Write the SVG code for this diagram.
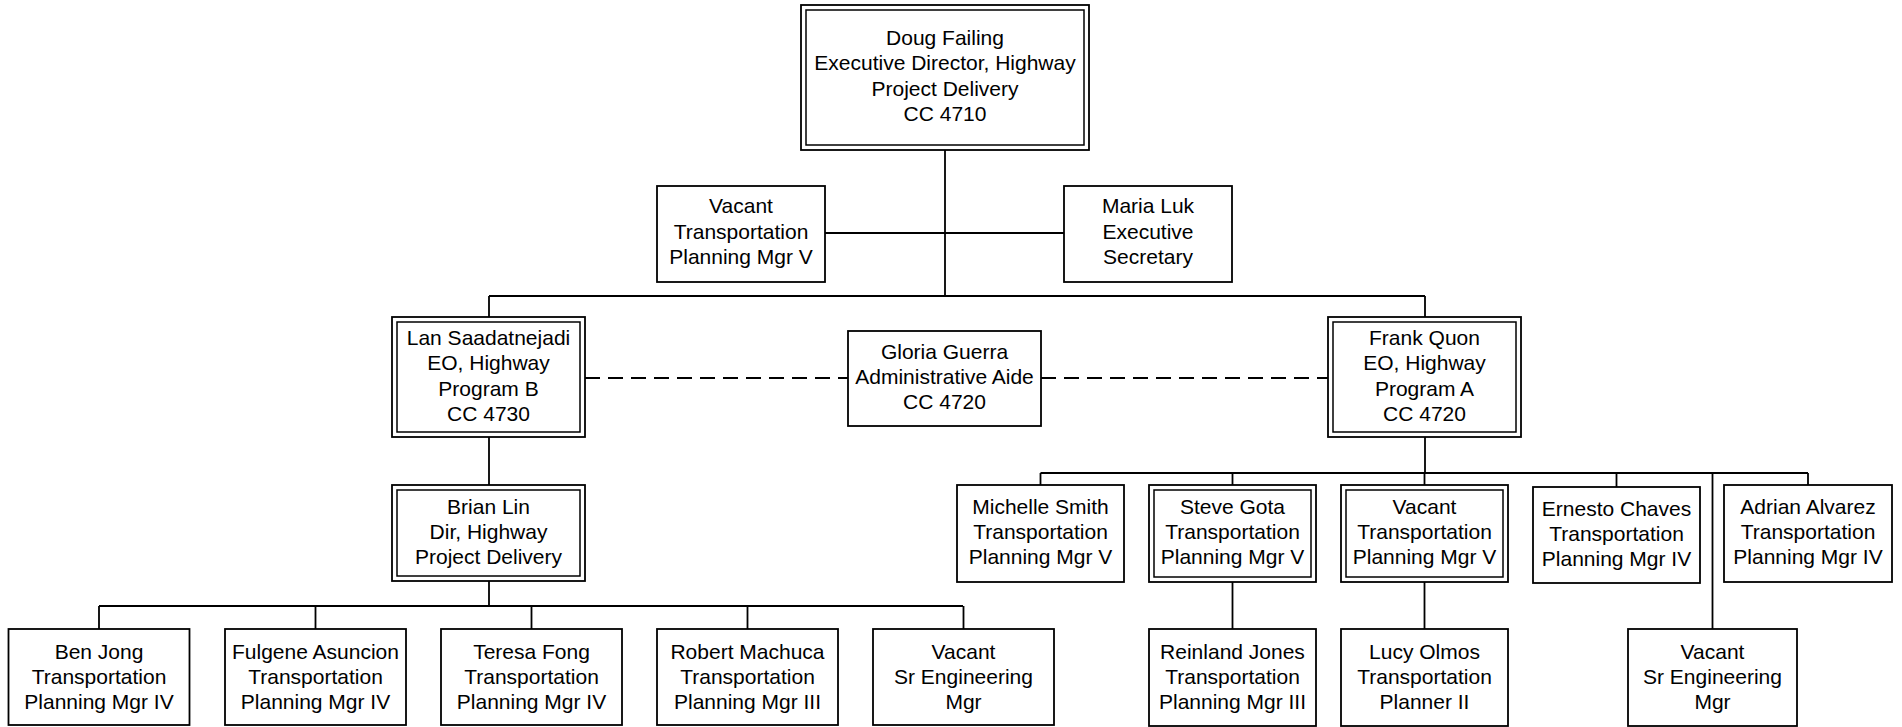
<svg xmlns="http://www.w3.org/2000/svg" width="1902" height="727" viewBox="0 0 1902 727">
<style>
.b{fill:#fff;stroke:#000;stroke-width:1.8}
.i{fill:none;stroke:#000;stroke-width:1.5}
.c{fill:none;stroke:#000;stroke-width:1.8}
.d{fill:none;stroke:#000;stroke-width:2;stroke-dasharray:15 8}
text{font-family:"Liberation Sans",Arial,sans-serif;font-size:21px;text-anchor:middle;fill:#000}
</style>
<rect width="1902" height="727" fill="#fff"/>
<g id="connectors">
<path class="c" d="M945 150V296M825 233H1064M489 296H1425M489 296V317M1425 296V317"/>
<path class="d" d="M585 378H848M1041 378H1328"/>
<path class="c" d="M489 437V485M489 581V606M99 606H963M99 606V629M315.5 606V629M531.5 606V629M747.5 606V629M963.5 606V629"/>
<path class="c" d="M1425 437V473M1040.5 473H1808M1040.5 473V485M1232.5 473V485M1424.5 473V485M1616.5 473V487M1808 473V485M1712.5 473V629"/>
<path class="c" d="M1232.5 582V629M1424.5 582V629"/>
</g>
<g id="doug">
<rect class="b" x="801" y="5" width="288" height="145"/>
<rect class="i" x="806" y="10" width="278" height="135"/>
<text x="945" y="44.5">Doug Failing</text>
<text x="945" y="70">Executive Director, Highway</text>
<text x="945" y="95.5">Project Delivery</text>
<text x="945" y="121">CC 4710</text>
</g>
<g id="vacant-tpm5-top">
<rect class="b" x="657" y="186" width="168" height="96"/>
<text x="741" y="213">Vacant</text>
<text x="741" y="238.5">Transportation</text>
<text x="741" y="264">Planning Mgr V</text>
</g>
<g id="maria">
<rect class="b" x="1064" y="186" width="168" height="96"/>
<text x="1148" y="213">Maria Luk</text>
<text x="1148" y="238.5">Executive</text>
<text x="1148" y="264">Secretary</text>
</g>
<g id="lan">
<rect class="b" x="392" y="317" width="193" height="120"/>
<rect class="i" x="397" y="322" width="183" height="110"/>
<text x="488.5" y="344.5">Lan Saadatnejadi</text>
<text x="488.5" y="370">EO, Highway</text>
<text x="488.5" y="395.5">Program B</text>
<text x="488.5" y="421">CC 4730</text>
</g>
<g id="gloria">
<rect class="b" x="848" y="331" width="193" height="95"/>
<text x="944.5" y="358.5">Gloria Guerra</text>
<text x="944.5" y="383.5">Administrative Aide</text>
<text x="944.5" y="408.5">CC 4720</text>
</g>
<g id="frank">
<rect class="b" x="1328" y="317" width="193" height="120"/>
<rect class="i" x="1333" y="322" width="183" height="110"/>
<text x="1424.5" y="344.5">Frank Quon</text>
<text x="1424.5" y="370">EO, Highway</text>
<text x="1424.5" y="395.5">Program A</text>
<text x="1424.5" y="421">CC 4720</text>
</g>
<g id="brian">
<rect class="b" x="392" y="485" width="193" height="96"/>
<rect class="i" x="397" y="490" width="183" height="86"/>
<text x="488.5" y="513.5">Brian Lin</text>
<text x="488.5" y="538.5">Dir, Highway</text>
<text x="488.5" y="563.5">Project Delivery</text>
</g>
<g id="ben">
<rect class="b" x="8.5" y="629" width="181" height="96"/>
<text x="99" y="658.5">Ben Jong</text>
<text x="99" y="683.5">Transportation</text>
<text x="99" y="708.5">Planning Mgr IV</text>
</g>
<g id="fulgene">
<rect class="b" x="225" y="629" width="181" height="96"/>
<text x="315.5" y="658.5">Fulgene Asuncion</text>
<text x="315.5" y="683.5">Transportation</text>
<text x="315.5" y="708.5">Planning Mgr IV</text>
</g>
<g id="teresa">
<rect class="b" x="441" y="629" width="181" height="96"/>
<text x="531.5" y="658.5">Teresa Fong</text>
<text x="531.5" y="683.5">Transportation</text>
<text x="531.5" y="708.5">Planning Mgr IV</text>
</g>
<g id="robert">
<rect class="b" x="657" y="629" width="181" height="96"/>
<text x="747.5" y="658.5">Robert Machuca</text>
<text x="747.5" y="683.5">Transportation</text>
<text x="747.5" y="708.5">Planning Mgr III</text>
</g>
<g id="vacant-sreng-left">
<rect class="b" x="873" y="629" width="181" height="96"/>
<text x="963.5" y="658.5">Vacant</text>
<text x="963.5" y="683.5">Sr Engineering</text>
<text x="963.5" y="708.5">Mgr</text>
</g>
<g id="michelle">
<rect class="b" x="957" y="485" width="167" height="97"/>
<text x="1040.5" y="513.5">Michelle Smith</text>
<text x="1040.5" y="538.5">Transportation</text>
<text x="1040.5" y="563.5">Planning Mgr V</text>
</g>
<g id="steve">
<rect class="b" x="1149" y="485" width="167" height="97"/>
<rect class="i" x="1154" y="490" width="157" height="87"/>
<text x="1232.5" y="513.5">Steve Gota</text>
<text x="1232.5" y="538.5">Transportation</text>
<text x="1232.5" y="563.5">Planning Mgr V</text>
</g>
<g id="vacant-tpm5-right">
<rect class="b" x="1341" y="485" width="167" height="97"/>
<rect class="i" x="1346" y="490" width="157" height="87"/>
<text x="1424.5" y="513.5">Vacant</text>
<text x="1424.5" y="538.5">Transportation</text>
<text x="1424.5" y="563.5">Planning Mgr V</text>
</g>
<g id="ernesto">
<rect class="b" x="1533" y="487" width="167" height="96"/>
<text x="1616.5" y="515.5">Ernesto Chaves</text>
<text x="1616.5" y="540.5">Transportation</text>
<text x="1616.5" y="565.5">Planning Mgr IV</text>
</g>
<g id="adrian">
<rect class="b" x="1724" y="485" width="168" height="97"/>
<text x="1808" y="513.5">Adrian Alvarez</text>
<text x="1808" y="538.5">Transportation</text>
<text x="1808" y="563.5">Planning Mgr IV</text>
</g>
<g id="reinland">
<rect class="b" x="1149" y="629" width="167" height="97"/>
<text x="1232.5" y="658.5">Reinland Jones</text>
<text x="1232.5" y="683.5">Transportation</text>
<text x="1232.5" y="708.5">Planning Mgr III</text>
</g>
<g id="lucy">
<rect class="b" x="1341" y="629" width="167" height="97"/>
<text x="1424.5" y="658.5">Lucy Olmos</text>
<text x="1424.5" y="683.5">Transportation</text>
<text x="1424.5" y="708.5">Planner II</text>
</g>
<g id="vacant-sreng-right">
<rect class="b" x="1628" y="629" width="169" height="97"/>
<text x="1712.5" y="658.5">Vacant</text>
<text x="1712.5" y="683.5">Sr Engineering</text>
<text x="1712.5" y="708.5">Mgr</text>
</g>
</svg>
